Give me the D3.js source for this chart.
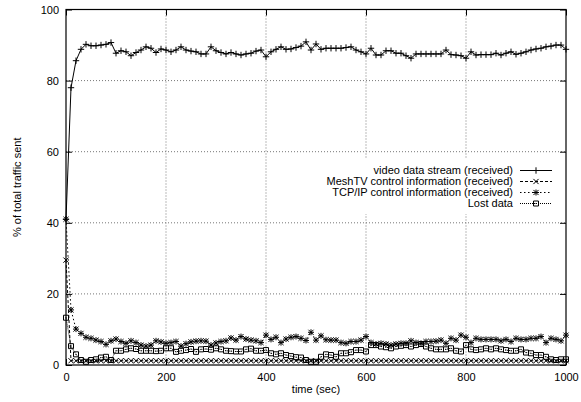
<!DOCTYPE html>
<html>
<head>
<meta charset="utf-8">
<script src="https://cdn.jsdelivr.net/npm/d3@7"></script>
<style>
body { margin: 0; background: #fff; }
svg { display: block; font-family: "Liberation Sans", Arial, sans-serif; }
</style>
</head>
<body>
<script>
// Data (one sample every 10 s, t = 0 .. 1000)

const times = d3.range(0, 1001, 10);

const videoData = [
  41, 78, 85.6, 88.8, 90.2, 89.8, 89.8, 90, 90.2, 90.7,
  87.7, 88.4, 88.1, 87, 87.9, 88.6, 89.5, 89.1, 87.9, 88.9,
  88.6, 88.1, 88.6, 89.5, 88.6, 88.3, 88.1, 87.5, 87.5, 89.5,
  88.4, 87.9, 87.5, 87.9, 87.5, 87.2, 87.5, 87.7, 88.3, 88.6,
  86.7, 88.1, 88.8, 89.5, 88.8, 88.9, 89.3, 89.7, 90.9, 88.6,
  90.3, 88.8, 89.1, 89.1, 89.1, 89.1, 89.3, 89.5, 88.6, 88.1,
  87.5, 89.1, 87.2, 87.2, 88.4, 88.4, 87.7, 87.7, 87.0, 86.3,
  87.5, 87.5, 87.5, 87.5, 87.5, 87.5, 88.6, 87.3, 87.2, 87.0,
  86.3, 88.1, 87.2, 87.3, 87.3, 87.3, 87.7, 87.2, 87.7, 88.1,
  87.4, 87.7, 88.1, 88.6, 88.9, 89.1, 89.5, 89.7, 90, 90,
  88.8
];

const meshData = [
  29.5, 1.2, 1.2, 1.2, 1.2, 1.2, 1.2, 1.2, 1.2, 1.2,
  1.2, 1.2, 1.2, 1.2, 1.2, 1.2, 1.2, 1.2, 1.2, 1.2,
  1.2, 1.2, 1.2, 1.2, 1.2, 1.2, 1.2, 1.2, 1.2, 1.2,
  1.2, 1.2, 1.2, 1.2, 1.2, 1.2, 1.2, 1.2, 1.2, 1.2,
  1.2, 1.2, 1.2, 1.2, 1.2, 1.2, 1.2, 1.2, 1.2, 1.2,
  1.2, 1.2, 1.2, 1.2, 1.2, 1.2, 1.2, 1.2, 1.2, 1.2,
  1.2, 1.2, 1.2, 1.2, 1.2, 1.2, 1.2, 1.2, 1.2, 1.2,
  1.2, 1.2, 1.2, 1.2, 1.2, 1.2, 1.2, 1.2, 1.2, 1.2,
  1.2, 1.2, 1.2, 1.2, 1.2, 1.2, 1.2, 1.2, 1.2, 1.2,
  1.2, 1.2, 1.2, 1.2, 1.2, 1.2, 1.2, 1.2, 1.2, 1.2,
  1.2
];

const tcpData = [
  41, 15.5, 10.1, 8.9, 7.8, 7.5, 7.0, 6.6, 5.8, 6.8,
  7.3, 6.6, 6.1, 6.8, 6.3, 5.6, 5.3, 5.6, 6.8, 6.5,
  6.1, 6.3, 6.6, 5.3, 6.0, 6.5, 6.7, 6.8, 6.7, 5.6,
  6.2, 6.6, 6.8, 7.6, 7.0, 8.0, 7.3, 7.0, 6.8, 6.3,
  8.4, 7.2, 7.8, 6.3, 7.3, 7.8, 8.0, 7.5, 6.9, 9.2,
  7.0, 8.2, 7.1, 7.0, 7.0, 6.3, 6.1, 6.6, 6.6, 7.0,
  8.0, 6.3, 5.9, 6.1, 5.9, 5.6, 5.9, 6.1, 6.1, 6.8,
  6.3, 6.1, 6.6, 6.6, 6.7, 7.0, 6.1, 7.5, 7.0, 8.4,
  7.8, 6.3, 7.5, 7.2, 7.2, 7.2, 7.2, 6.8, 7.2, 6.6,
  7.5, 7.2, 7.2, 7.5, 7.5, 8.0, 6.3, 7.5, 7.2, 6.8,
  8.4
];

const lostData = [
  13.3, 5.3, 3.0, 1.4, 0.9, 1.4, 1.6, 2.1, 2.3, 1.4,
  4.0, 4.0, 4.4, 4.7, 4.5, 4.0, 4.0, 4.0, 3.9, 4.0,
  4.7, 4.7, 3.7, 4.0, 4.2, 4.5, 3.7, 4.4, 4.5, 4.3,
  4.7, 4.4, 4.0, 3.9, 3.8, 3.8, 4.4, 4.6, 4.0, 4.0,
  4.2, 3.3, 3.0, 3.3, 2.8, 2.5, 2.2, 2.1, 1.4, 0.9,
  0.9, 2.3, 3.0, 2.8, 2.3, 3.3, 3.3, 3.6, 4.2, 4.2,
  3.8, 5.6, 5.6, 5.2, 5.0, 4.7, 5.2, 5.4, 5.6, 5.2,
  5.6, 5.9, 5.2, 4.7, 4.4, 4.4, 4.4, 4.7, 4.0, 3.8,
  5.6, 4.4, 4.2, 4.4, 4.7, 4.4, 4.7, 4.4, 4.2, 4.0,
  4.0, 4.4, 3.5, 3.3, 2.8, 2.8, 2.3, 1.6, 1.4, 1.6,
  1.6
];

const seriesNames = [
  "video data stream (received)",
  "MeshTV control information (received)",
  "TCP/IP control information (received)",
  "Lost data"
];

const xTicks = [0, 200, 400, 600, 800, 1000];
const yTicks = [0, 20, 40, 60, 80, 100];

// Dimensions

const width = 581;
const height = 402;
const plotLeft = 66;
const plotRight = 566;
const plotTop = 9.5;
const plotBottom = 365;
const tickLen = 6;

const svg = d3.select("body")
  .append("svg")
  .attr("width", width)
  .attr("height", height);

const x = d3.scaleLinear().domain([0, 1000]).range([plotLeft, plotRight]);
const y = d3.scaleLinear().domain([0, 100]).range([plotBottom, plotTop]);

// Grid (dotted)

svg.append("g")
  .selectAll("line")
  .data(xTicks.slice(1, -1))
  .enter()
  .append("line")
  .attr("x1", d => x(d)).attr("x2", d => x(d))
  .attr("y1", plotTop).attr("y2", plotBottom)
  .attr("stroke", "#777").attr("stroke-width", 1)
  .attr("stroke-dasharray", "1,2");

svg.append("g")
  .selectAll("line")
  .data(yTicks.slice(1, -1))
  .enter()
  .append("line")
  .attr("y1", d => y(d)).attr("y2", d => y(d))
  .attr("x1", plotLeft).attr("x2", plotRight)
  .attr("stroke", "#777").attr("stroke-width", 1)
  .attr("stroke-dasharray", "1,2");

// Axes: ticks on all four sides, pointing inward

function styleAxis(g) {
  g.select(".domain").remove();
  g.selectAll("line").attr("stroke", "#000");
  g.selectAll("text").attr("fill", "#000").attr("font-size", 11)
    .attr("font-family", "'Liberation Sans', Arial, sans-serif");
}

const fmt = d3.format("d");

svg.append("g")
  .attr("transform", `translate(0,${plotBottom})`)
  .call(d3.axisBottom(x).tickValues(xTicks).tickFormat(fmt).tickSizeInner(-tickLen).tickSizeOuter(0).tickPadding(8))
  .call(styleAxis);

svg.append("g")
  .attr("transform", `translate(0,${plotTop})`)
  .call(d3.axisTop(x).tickValues(xTicks).tickSizeInner(-tickLen).tickSizeOuter(0).tickFormat(""))
  .call(styleAxis);

svg.append("g")
  .attr("transform", `translate(${plotLeft},0)`)
  .call(d3.axisLeft(y).tickValues(yTicks).tickFormat(fmt).tickSizeInner(-tickLen).tickSizeOuter(0).tickPadding(7))
  .call(styleAxis);

svg.append("g")
  .attr("transform", `translate(${plotRight},0)`)
  .call(d3.axisRight(y).tickValues(yTicks).tickSizeInner(-tickLen).tickSizeOuter(0).tickFormat(""))
  .call(styleAxis);

// Key area is blanked

const keyRight = 552;
const keyRows = [170.5, 181.5, 192.5, 203.5];

svg.append("rect")
  .attr("x", 318).attr("y", 158)
  .attr("width", 242).attr("height", 56)
  .attr("fill", "#fff");

// Marker shapes

function plusPath(s) { return `M${-s},0H${s}M0,${-s}V${s}`; }
function crossPath(s) { return `M${-s},${-s}L${s},${s}M${-s},${s}L${s},${-s}`; }
function starPath(s) { return plusPath(s) + crossPath(s * 0.85); }
function boxPath(s) { return `M${-s},${-s}h${2 * s}v${2 * s}h${-2 * s}Z M-0.5,0h1`; }

const series = [
  { data: videoData, dash: null, marker: plusPath(3.2) },
  { data: meshData, dash: "3,2", marker: crossPath(2.6) },
  { data: tcpData, dash: "1.5,2.5", marker: starPath(3) },
  { data: lostData, dash: "1,1", marker: boxPath(2.5) }
];

const line = d3.line()
  .x((d, i) => x(times[i]))
  .y(d => y(d));

series.forEach(s => {
  const g = svg.append("g");
  g.append("path")
    .datum(s.data)
    .attr("fill", "none")
    .attr("stroke", "#000")
    .attr("stroke-width", 1)
    .attr("stroke-dasharray", s.dash)
    .attr("d", line);
  g.selectAll("path.pt")
    .data(s.data)
    .enter()
    .append("path")
    .attr("class", "pt")
    .attr("d", s.marker)
    .attr("transform", (d, i) => `translate(${x(times[i])},${y(d)})`)
    .attr("fill", "none")
    .attr("stroke", "#000")
    .attr("stroke-width", 1);
});

// Border

svg.append("rect")
  .attr("x", plotLeft).attr("y", plotTop)
  .attr("width", plotRight - plotLeft).attr("height", plotBottom - plotTop)
  .attr("fill", "none").attr("stroke", "#000").attr("stroke-width", 1.2);

// Key

series.forEach((s, i) => {
  const cy = keyRows[i];
  svg.append("text")
    .attr("x", keyRight - 39)
    .attr("y", cy)
    .attr("dy", "0.35em")
    .attr("text-anchor", "end")
    .attr("font-size", 11)
    .text(seriesNames[i]);
  svg.append("line")
    .attr("x1", keyRight - 32).attr("x2", keyRight)
    .attr("y1", cy).attr("y2", cy)
    .attr("stroke", "#000").attr("stroke-width", 1)
    .attr("stroke-dasharray", s.dash);
  svg.append("path")
    .attr("d", s.marker)
    .attr("transform", `translate(${keyRight - 16},${cy})`)
    .attr("fill", "none").attr("stroke", "#000").attr("stroke-width", 1);
});

// Axis labels

svg.append("text")
  .attr("x", (plotLeft + plotRight) / 2)
  .attr("y", 389)
  .attr("dy", "0.35em")
  .attr("text-anchor", "middle")
  .attr("font-size", 11)
  .text("time (sec)");

svg.append("text")
  .attr("transform", `translate(17,${(plotTop + plotBottom) / 2}) rotate(-90)`)
  .attr("dy", "0.35em")
  .attr("text-anchor", "middle")
  .attr("font-size", 11)
  .text("% of total traffic sent");
</script>
</body>
</html>
